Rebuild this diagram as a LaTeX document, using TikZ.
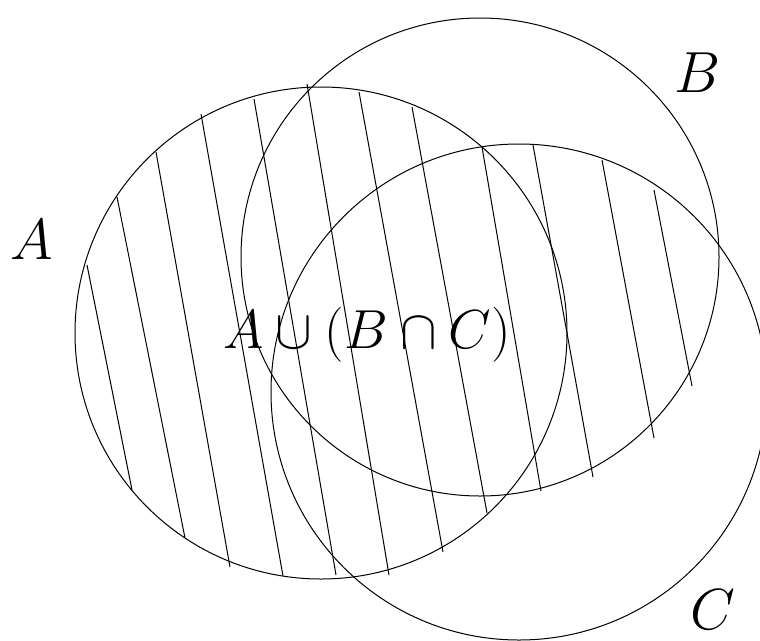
\documentclass[tikz,border=0pt]{standalone}
\tikzset{
  setcircle/.style={draw=black, line width=1pt},
  hatch/.style={draw=black, line width=1pt},
  setlabel/.style={inner sep=0pt, anchor=base, font=\Huge, scale=2.33},
  mainlabel/.style={inner sep=0pt, anchor=base, font=\Huge, scale=2.21}
}
\begin{document}
\begin{tikzpicture}[x=1pt,y=-1pt]
\useasboundingbox (0,0) rectangle (760,640);
% circles
\draw[setcircle] (321,333) circle[radius=246pt];
\draw[setcircle] (480,257) circle[radius=239pt];
\draw[setcircle] (519,392) circle[radius=248pt];
% hatching of A u (B n C)
\draw[hatch] (87,265) -- (132,490);
\draw[hatch] (117,197) -- (185,538);
\draw[hatch] (156,152) -- (230,567);
\draw[hatch] (201,114) -- (283,576);
\draw[hatch] (254,99) -- (336,575);
\draw[hatch] (307,84) -- (389,575);
\draw[hatch] (359,92) -- (443,552);
\draw[hatch] (412,107) -- (487,513);
\draw[hatch] (482,147) -- (541,491);
\draw[hatch] (533,145) -- (593,477);
\draw[hatch] (602,160) -- (654,438);
\draw[hatch] (654,190) -- (692,386);
% labels
\node[setlabel] (lA) at (32,259) {$A$};
\node[setlabel] (lB) at (698,92) {$B$};
\node[setlabel] (lC) at (713,629) {$C$};
\node[mainlabel] (expr) at (367,348) {$A\cup(B\cap C)$};
\end{tikzpicture}
\end{document}
